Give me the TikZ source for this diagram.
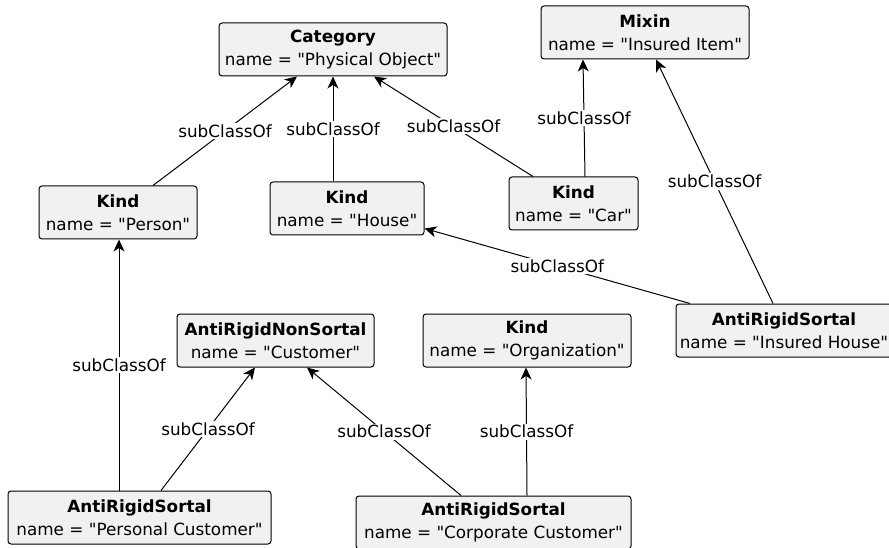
\documentclass[tikz,border=0pt]{standalone}
\usepackage{fontspec}
\setmainfont{DejaVu Sans}[Ligatures=TeXOff]
\usetikzlibrary{arrows.meta}
\definecolor{boxfill}{HTML}{F1F1F1}
\tikzset{
  umlbox/.style={draw=black, line width=1pt, fill=boxfill, rounded corners=3pt,
    inner sep=0pt, minimum height=53pt, align=center,
    font=\fontsize{16.8}{23.5}\selectfont},
  gen/.style={draw=black, line width=1pt,
    -{Stealth[length=12pt,width=11pt,inset=3.5pt]}},
  lbl/.style={fill=white, inner sep=1.5pt, font=\fontsize{16.8}{19}\selectfont}
}
\begin{document}
\begin{tikzpicture}[x=1pt,y=-1pt]
\useasboundingbox (0,0) rectangle (889,548);
\begin{scope}
\clip (0,0) rectangle (889,548);
% classes
\node[umlbox, minimum width=228pt] (category) at (333,49.5) {\textbf{Category}\\name = "Physical Object"};
\node[umlbox, minimum width=208pt] (mixin) at (645,32.5) {\textbf{Mixin}\\name = "Insured Item"};
\node[umlbox, minimum width=158pt] (person) at (118,212.5) {\textbf{Kind}\\name = "Person"};
\node[umlbox, minimum width=154pt] (house) at (347,208.5) {\textbf{Kind}\\name = "House"};
\node[umlbox, minimum width=129pt] (car) at (573.5,203.5) {\textbf{Kind}\\name = "Car"};
\node[umlbox, minimum width=216pt] (insured) at (784,330.5) {\textbf{AntiRigidSortal}\\name = "Insured House"};
\node[umlbox, minimum width=197pt] (customer) at (275.5,340.5) {\textbf{AntiRigidNonSortal}\\name = "Customer"};
\node[umlbox, minimum width=208pt] (org) at (527,340.5) {\textbf{Kind}\\name = "Organization"};
\node[umlbox, minimum width=263pt] (personal) at (139.5,517.5) {\textbf{AntiRigidSortal}\\name = "Personal Customer"};
\node[umlbox, minimum width=275pt] (corporate) at (493.5,522.5) {\textbf{AntiRigidSortal}\\name = "Corporate Customer"};
% generalisations
\draw[gen] ([xshift=35pt]person.north) -- node[lbl]{subClassOf} ([xshift=-36pt]category.south);
\draw[gen] ([xshift=-14pt]house.north) -- node[lbl]{subClassOf} (category.south);
\draw[gen] ([xshift=-40.5pt]car.north) -- node[lbl]{subClassOf} ([xshift=41pt]category.south);
\draw[gen] ([xshift=11.5pt]car.north) -- node[lbl]{subClassOf} ([xshift=-62pt]mixin.south);
\draw[gen] ([xshift=-11pt]insured.north) -- node[lbl]{subClassOf} ([xshift=11pt]mixin.south);
\draw[gen] ([xshift=-94pt]insured.north) -- node[lbl]{subClassOf} ([yshift=7pt]house.south east);
\draw[gen] ([xshift=-20.5pt]personal.north) -- node[lbl]{subClassOf} ([xshift=1pt]person.south);
\draw[gen] ([xshift=21.5pt]personal.north) -- node[lbl]{subClassOf} ([xshift=-20.5pt]customer.south);
\draw[gen] ([xshift=-32.5pt]corporate.north) -- node[lbl]{subClassOf} ([xshift=31.5pt]customer.south);
\draw[gen] ([xshift=33.5pt]corporate.north) -- node[lbl]{subClassOf} ([xshift=-1pt]org.south);
\end{scope}
\end{tikzpicture}
\end{document}
